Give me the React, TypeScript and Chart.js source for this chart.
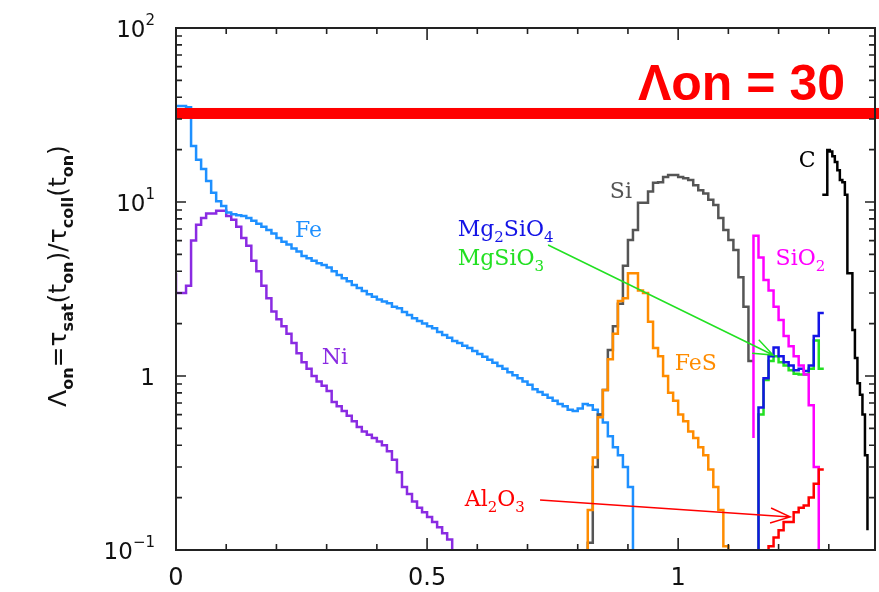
import React, { useEffect, useRef } from "react";
import { Chart, registerables } from "chart.js";

Chart.register(...registerables);

// Axis ranges
const X_MIN = 0;
const X_MAX = 1.392;
const Y_MIN = 0.1;
const Y_MAX = 100;

// Level of the onset threshold band
const LAMBDA_ON = 30;

// Off-scale level used where a histogram falls to zero
const BELOW = 0.01;

// Tick labels
const xTickValues = [0, 0.5, 1];
const xTickLabels = ["0", "0.5", "1"];
const yTickValues = [0.1, 1, 10, 100];
const yTickBase = ["10", "1", "10", "10"];
const yTickExp = ["\u22121", "", "1", "2"];

// Histogram series: first bin edge, bin width, bin heights
const feStart = 0.0;
const feBin = 0.01;
const feValues = [
  35.6, 35.6, 35, 21, 17.5, 15.5, 13.2, 11.3, 10.1, 9.5,
  8.7, 8.5, 8.4, 8.3, 8.1, 7.8, 7.5, 7.2, 6.9, 6.6,
  6.2, 5.9, 5.7, 5.4, 5.2, 4.9, 4.75, 4.6, 4.45, 4.35,
  4.2, 4.0, 3.8, 3.65, 3.5, 3.33, 3.2, 3.08, 2.95, 2.85,
  2.75, 2.68, 2.62, 2.5, 2.45, 2.33, 2.24, 2.15, 2.07, 2.0,
  1.93, 1.88, 1.79, 1.72, 1.66, 1.59, 1.55, 1.49, 1.45, 1.39,
  1.34, 1.29, 1.24, 1.19, 1.14, 1.10, 1.05, 1.01, 0.97, 0.93,
  0.89, 0.84, 0.81, 0.78, 0.75, 0.72, 0.69, 0.67, 0.64, 0.63,
  0.65, 0.69, 0.68, 0.64, 0.60, 0.54, 0.45, 0.39, 0.35, 0.30,
  0.23,
];

const niStart = 0.0;
const niBin = 0.01;
const niValues = [
  3.0, 3.0, 3.3, 6.0, 7.4, 8.1, 8.6, 8.6, 8.9, 8.9,
  8.3, 7.9, 7.2, 6.2, 5.6, 4.6, 4.0, 3.3, 2.8, 2.35,
  2.12, 1.93, 1.75, 1.55, 1.35, 1.2, 1.1, 1.0, 0.93, 0.88,
  0.82, 0.71, 0.67, 0.63, 0.59, 0.55, 0.51, 0.48, 0.46, 0.44,
  0.42, 0.40, 0.37, 0.33, 0.28, 0.23, 0.21, 0.19, 0.175, 0.165,
  0.155, 0.145, 0.135, 0.125, 0.115,
];

const siStart = 0.82;
const siBin = 0.01;
const siValues = [
  0.11, 0.3, 0.6, 0.83, 1.41, 1.93, 2.6, 4.3, 6.05, 6.9,
  9.9, 9.9, 11.5, 12.9, 13.0, 13.9, 14.3, 14.3, 13.9, 13.7,
  13.4, 12.5, 11.7, 11.2, 10.3, 9.6, 8.1, 6.9, 6.05, 5.3,
  3.7, 2.5, 1.22,
];

const fesStart = 0.82;
const fesBin = 0.01;
const fesValues = [
  0.17, 0.34, 0.58, 0.83, 1.25, 1.75, 2.7, 2.8, 3.9, 3.9,
  3.1, 3.0, 2.05, 1.45, 1.3, 1.0, 0.8, 0.72, 0.6, 0.55,
  0.48, 0.44, 0.39, 0.35, 0.29, 0.23, 0.17, 0.105,
];

const mg2sio4Start = 1.16;
const mg2sio4Bin = 0.01;
const mg2sio4Values = [0.66, 0.97, 1.3, 1.46, 1.3, 1.2, 1.15, 1.08, 1.1, 1.07, 1.15, 1.7, 2.3];

const mgsio3Start = 1.16;
const mgsio3Bin = 0.01;
const mgsio3Values = [0.6, 0.95, 1.22, 1.3, 1.2, 1.15, 1.08, 1.03, 1.02, 1.02, 1.1, 1.6, 1.1];

const sio2Start = 1.15;
const sio2Bin = 0.01;
const sio2Values = [6.4, 4.8, 3.56, 3.1, 2.5, 2.1, 1.7, 1.48, 1.3, 1.15, 1.02, 0.68, 0.3];

const al2o3Start = 1.18;
const al2o3Bin = 0.01;
const al2o3Values = [0.105, 0.118, 0.13, 0.145, 0.145, 0.165, 0.175, 0.18, 0.2, 0.24, 0.29];

const cStart = 1.287;
const cBin = 0.005;
const cValues = [
  11, 11, 19.9, 19.5, 18.3, 17, 15.2, 13.4, 13, 11,
  3.9, 3.9, 1.84, 1.27, 0.91, 0.78, 0.6, 0.35,
];

type Pt = { x: number; y: number };

// Build a step outline: optional rising edge, one point per bin, closing edge.
function histogram(
  x0: number,
  width: number,
  values: number[],
  startLevel: number | null,
  endLevel: number | null
): Pt[] {
  const pts: Pt[] = [];
  if (startLevel !== null) pts.push({ x: x0, y: startLevel });
  values.forEach((v, i) => pts.push({ x: x0 + i * width, y: v }));
  const xEnd = x0 + values.length * width;
  pts.push({ x: xEnd, y: endLevel !== null ? endLevel : values[values.length - 1] });
  return pts;
}

const COLORS = {
  fe: "#1e90ff",
  ni: "#8a2be2",
  si: "#555555",
  fes: "#ff8c00",
  mg2sio4: "#1414e6",
  mgsio3: "#22e022",
  sio2: "#ff00ff",
  al2o3: "#ff0000",
  c: "#000000",
};

type Seg = { t: string; sub?: boolean };

function drawRich(
  ctx: CanvasRenderingContext2D,
  segs: Seg[],
  x: number,
  y: number,
  mainFont: string,
  subFont: string,
  subDrop: number
) {
  let cx = x;
  ctx.textAlign = "left";
  ctx.textBaseline = "alphabetic";
  for (const s of segs) {
    ctx.font = s.sub ? subFont : mainFont;
    ctx.fillText(s.t, cx, s.sub ? y + subDrop : y);
    cx += ctx.measureText(s.t).width;
  }
}

function richWidth(ctx: CanvasRenderingContext2D, segs: Seg[], mainFont: string, subFont: string) {
  let w = 0;
  for (const s of segs) {
    ctx.font = s.sub ? subFont : mainFont;
    w += ctx.measureText(s.t).width;
  }
  return w;
}

// Species labels anchored in data coordinates (left edge, baseline)
const speciesLabels: { segs: Seg[]; x: number; y: number; color: string }[] = [
  { segs: [{ t: "Fe" }], x: 0.237, y: 6.3, color: COLORS.fe },
  { segs: [{ t: "Ni" }], x: 0.29, y: 1.17, color: COLORS.ni },
  { segs: [{ t: "Si" }], x: 0.864, y: 10.5, color: COLORS.si },
  { segs: [{ t: "FeS" }], x: 0.993, y: 1.08, color: COLORS.fes },
  { segs: [{ t: "SiO" }, { t: "2", sub: true }], x: 1.194, y: 4.35, color: COLORS.sio2 },
  { segs: [{ t: "C" }], x: 1.24, y: 15.9, color: COLORS.c },
  {
    segs: [{ t: "Mg" }, { t: "2", sub: true }, { t: "SiO" }, { t: "4", sub: true }],
    x: 0.561,
    y: 6.38,
    color: COLORS.mg2sio4,
  },
  { segs: [{ t: "MgSiO" }, { t: "3", sub: true }], x: 0.561, y: 4.35, color: COLORS.mgsio3 },
  { segs: [{ t: "Al" }, { t: "2", sub: true }, { t: "O" }, { t: "3", sub: true }], x: 0.575, y: 0.18, color: COLORS.al2o3 },
];

// Pointer arrows in data coordinates
const arrows = [
  { from: { x: 0.741, y: 5.66 }, to: { x: 1.189, y: 1.32 }, color: COLORS.mgsio3 },
  { from: { x: 0.725, y: 0.194 }, to: { x: 1.223, y: 0.155 }, color: COLORS.al2o3 },
];

const yTitle: Seg[] = [
  { t: "\u039b" },
  { t: "on", sub: true },
  { t: "=\u03c4" },
  { t: "sat", sub: true },
  { t: "(t" },
  { t: "on", sub: true },
  { t: ")/\u03c4" },
  { t: "coll", sub: true },
  { t: "(t" },
  { t: "on", sub: true },
  { t: ")" },
];

const overlay = {
  id: "overlay",
  afterDatasetsDraw(chart: any) {
    const ctx: CanvasRenderingContext2D = chart.ctx;
    const a = chart.chartArea;
    const xs = chart.scales.x;
    const ys = chart.scales.y;
    ctx.save();

    // threshold band, lower edge at LAMBDA_ON
    const yb = ys.getPixelForValue(LAMBDA_ON);
    ctx.fillStyle = "#ff0000";
    ctx.fillRect(a.left, yb - 11, chart.width - a.left, 11);

    ctx.font = "bold 50px 'Liberation Sans', Arial, sans-serif";
    ctx.textAlign = "right";
    ctx.textBaseline = "alphabetic";
    ctx.fillText("\u039bon = " + LAMBDA_ON, 845, yb - 19);

    // frame
    ctx.strokeStyle = "#222";
    ctx.lineWidth = 2;
    ctx.strokeRect(a.left, a.top, a.right - a.left, a.bottom - a.top);

    // x ticks, bottom and top
    ctx.lineWidth = 1.6;
    ctx.beginPath();
    for (let k = 0; k <= 13; k++) {
      const v = k / 10;
      if (v > X_MAX) break;
      const px = xs.getPixelForValue(v);
      const len = k % 5 === 0 ? 12 : 6;
      ctx.moveTo(px, a.bottom);
      ctx.lineTo(px, a.bottom - len);
      ctx.moveTo(px, a.top);
      ctx.lineTo(px, a.top + len);
    }
    // y ticks, left and right
    for (let d = -1; d <= 2; d++) {
      for (let m = 1; m <= 9; m++) {
        const v = m * Math.pow(10, d);
        if (v > Y_MAX * 1.0001) break;
        const py = ys.getPixelForValue(v);
        const len = m === 1 ? 10 : 6;
        ctx.moveTo(a.left, py);
        ctx.lineTo(a.left + len, py);
        ctx.moveTo(a.right, py);
        ctx.lineTo(a.right - len, py);
      }
    }
    ctx.stroke();

    // tick labels
    ctx.fillStyle = "#111";
    ctx.font = "24px 'DejaVu Sans', sans-serif";
    ctx.textAlign = "center";
    ctx.textBaseline = "alphabetic";
    xTickValues.forEach((v, i) => {
      ctx.fillText(xTickLabels[i], xs.getPixelForValue(v), a.bottom + 35);
    });
    yTickValues.forEach((v, i) => {
      const py = ys.getPixelForValue(v);
      const right = 155;
      ctx.textAlign = "right";
      ctx.font = "15px 'DejaVu Sans', sans-serif";
      const ew = yTickExp[i] ? ctx.measureText(yTickExp[i]).width : 0;
      if (yTickExp[i]) ctx.fillText(yTickExp[i], right, py - 3);
      ctx.font = "23px 'DejaVu Sans', sans-serif";
      ctx.fillText(yTickBase[i], right - ew, py + 9);
    });

    // y axis title
    const mainF = "25px 'DejaVu Sans', sans-serif";
    const subF = "bold 16px 'DejaVu Sans', sans-serif";
    const tw = richWidth(ctx, yTitle, mainF, subF);
    ctx.save();
    ctx.translate(66, (a.top + a.bottom) / 2 - 13);
    ctx.rotate(-Math.PI / 2);
    ctx.fillStyle = "#111";
    drawRich(ctx, yTitle, -tw / 2, 0, mainF, subF, 7);
    ctx.restore();

    // species labels
    const lf = "22px 'DejaVu Serif', serif";
    const sf = "15px 'DejaVu Serif', serif";
    for (const l of speciesLabels) {
      ctx.fillStyle = l.color;
      drawRich(ctx, l.segs, xs.getPixelForValue(l.x), ys.getPixelForValue(l.y), lf, sf, 6);
    }

    // arrows
    ctx.lineWidth = 1.5;
    for (const ar of arrows) {
      const x1 = xs.getPixelForValue(ar.from.x);
      const y1 = ys.getPixelForValue(ar.from.y);
      const x2 = xs.getPixelForValue(ar.to.x);
      const y2 = ys.getPixelForValue(ar.to.y);
      const ang = Math.atan2(y1 - y2, x1 - x2);
      const hl = 21;
      const spread = (21 * Math.PI) / 180;
      ctx.strokeStyle = ar.color;
      ctx.beginPath();
      ctx.moveTo(x1, y1);
      ctx.lineTo(x2, y2);
      ctx.moveTo(x2 + hl * Math.cos(ang + spread), y2 + hl * Math.sin(ang + spread));
      ctx.lineTo(x2, y2);
      ctx.lineTo(x2 + hl * Math.cos(ang - spread), y2 + hl * Math.sin(ang - spread));
      ctx.stroke();
    }

    ctx.restore();
  },
};

export default function App() {
  const canvasRef = useRef<HTMLCanvasElement | null>(null);

  useEffect(() => {
    const canvas = canvasRef.current;
    if (!canvas) return;

    const ds = (label: string, data: Pt[], color: string, order: number) => ({
      label,
      data,
      borderColor: color,
      backgroundColor: color,
      borderWidth: 2.5,
      stepped: "before" as const,
      pointRadius: 0,
      fill: false,
      order,
    });

    const chart = new Chart(canvas, {
      type: "line",
      data: {
        datasets: [
          ds("Al2O3", histogram(al2o3Start, al2o3Bin, al2o3Values, BELOW, null), COLORS.al2o3, 0),
          ds("SiO2", histogram(sio2Start, sio2Bin, sio2Values, 0.44, BELOW), COLORS.sio2, 1),
          ds("Mg2SiO4", histogram(mg2sio4Start, mg2sio4Bin, mg2sio4Values, BELOW, null), COLORS.mg2sio4, 2),
          ds("MgSiO3", histogram(mgsio3Start, mgsio3Bin, mgsio3Values, BELOW, null), COLORS.mgsio3, 3),
          ds("C", histogram(cStart, cBin, cValues, null, 0.13), COLORS.c, 4),
          ds("FeS", histogram(fesStart, fesBin, fesValues, BELOW, BELOW), COLORS.fes, 5),
          ds("Si", histogram(siStart, siBin, siValues, BELOW, null), COLORS.si, 6),
          ds("Fe", histogram(feStart, feBin, feValues, null, BELOW), COLORS.fe, 7),
          ds("Ni", histogram(niStart, niBin, niValues, 3.9, BELOW), COLORS.ni, 8),
        ],
      },
      options: {
        animation: false,
        responsive: false,
        maintainAspectRatio: false,
        layout: { padding: { left: 176, top: 28, right: 4, bottom: 42 } },
        scales: {
          x: { type: "linear", min: X_MIN, max: X_MAX, display: false },
          y: { type: "logarithmic", min: Y_MIN, max: Y_MAX, display: false },
        },
        plugins: {
          legend: { display: false },
          tooltip: { enabled: false },
        },
        elements: { point: { radius: 0 }, line: { tension: 0 } },
      },
      plugins: [overlay],
    });

    return () => chart.destroy();
  }, []);

  return (
    <div style={{ position: "absolute", left: 0, top: 0, width: 879, height: 592, background: "#fff" }}>
      <canvas ref={canvasRef} width={879} height={592} style={{ display: "block" }} />
    </div>
  );
}
